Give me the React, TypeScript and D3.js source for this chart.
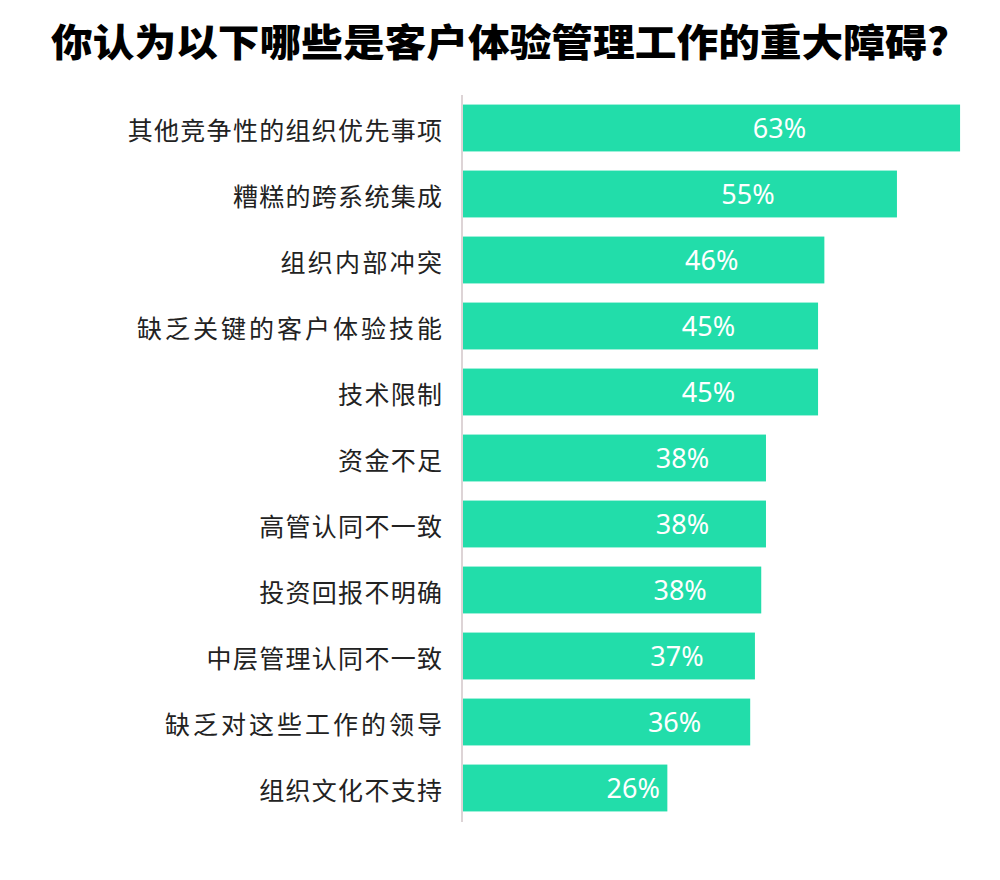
import React from "react";
import * as d3 from "d3";

const title = "你认为以下哪些是客户体验管理工作的重大障碍?";
const categories = [
  "其他竞争性的组织优先事项",
  "糟糕的跨系统集成",
  "组织内部冲突",
  "缺乏关键的客户体验技能",
  "技术限制",
  "资金不足",
  "高管认同不一致",
  "投资回报不明确",
  "中层管理认同不一致",
  "缺乏对这些工作的领导",
  "组织文化不支持",
];
const values = [63, 55, 45.8, 45, 45, 38.4, 38.4, 37.8, 37, 36.4, 25.9];

const W = 1000;
const H = 880;
const x0 = 463;

// per-label letter spacing tweaks to match the reference rendering
const spacingFor = (c: string) =>
  c.startsWith("缺乏") ? 3.0 : c === "组织内部冲突" ? 2.3 : 1.3;

export default function App() {
  const x = d3.scaleLinear().domain([0, 100]).range([x0, x0 + 789]);
  const y = d3
    .scaleBand<string>()
    .domain(categories)
    .range([95, 821])
    .paddingInner(0.29)
    .paddingOuter(0.145);
  const bh = y.bandwidth();
  const cjk = "'Noto Sans CJK SC', 'Noto Sans', sans-serif";
  return (
    <svg
      width={W}
      height={H}
      style={{ position: "absolute", left: 0, top: 0, background: "#fff" }}
    >
      <text
        x={500}
        y={56}
        textAnchor="middle"
        fontFamily={cjk}
        fontWeight={900}
        fontSize={38}
        fill="#000"
        textLength={898}
        lengthAdjust="spacingAndGlyphs"
      >
        {title}
      </text>
      {categories.map((c, i) => {
        const yy = y(c)!;
        const v = values[i];
        const ls = spacingFor(c);
        return (
          <g key={c}>
            <rect
              x={x(0)}
              y={yy}
              width={x(v) - x(0)}
              height={bh}
              fill="#22DDAA"
            />
            <text
              x={442 + ls}
              y={yy + bh / 2}
              dy="0.48em"
              textAnchor="end"
              fontFamily={cjk}
              fontSize={25}
              letterSpacing={ls}
              fill="#222"
            >
              {c}
            </text>
            <text
              x={(x(0) + x(v)) / 2 + 68}
              y={yy + bh / 2}
              dy="0.37em"
              textAnchor="middle"
              fontFamily="'Noto Sans', 'Open Sans', sans-serif"
              fontSize={27}
              fill="#fff"
            >
              {Math.round(v) + "%"}
            </text>
          </g>
        );
      })}
      <line
        x1={462}
        x2={462}
        y1={95}
        y2={822}
        stroke="#ddd4d6"
        strokeWidth={2}
      />
    </svg>
  );
}
